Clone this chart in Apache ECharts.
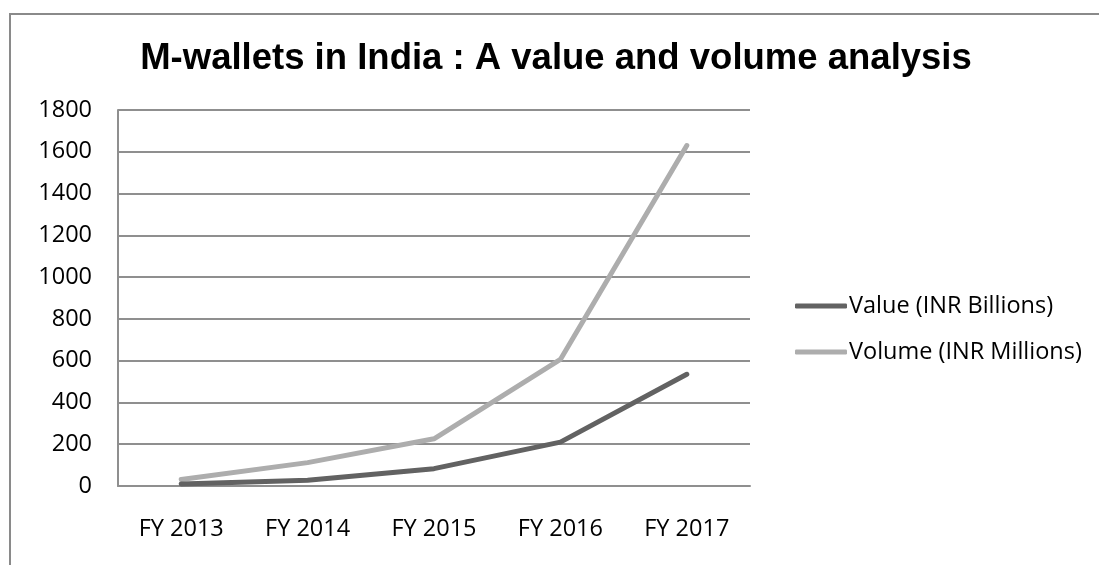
<!DOCTYPE html>
<html>
<head>
<meta charset="utf-8">
<title>M-wallets in India</title>
<script src="https://cdn.jsdelivr.net/npm/echarts@6/dist/echarts.min.js"></script>
<style>
  html, body { margin: 0; padding: 0; background: #ffffff; }
  #chart { width: 1099px; height: 565px; }
</style>
</head>
<body>
<div id="chart"></div>
<script>
// Fiscal years on the category axis
const categories = ['FY 2013', 'FY 2014', 'FY 2015', 'FY 2016', 'FY 2017'];

// Transaction value, INR billions
const valueInrBillions = [10, 27, 83, 210, 535];

// Transaction volume, INR millions
const volumeInrMillions = [31, 112, 226, 606, 1630];

// Y axis range and step
const yMin = 0;
const yMax = 1800;
const yStep = 200;

const chart = echarts.init(document.getElementById('chart'), null, { renderer: 'canvas' });

const labelFont = '"Open Sans", Lato, sans-serif';
const labelSize = 23.5;
const gridGray = '#8f8f8f';

chart.setOption({
  backgroundColor: '#ffffff',
  animation: false,
  title: {
    text: 'M-wallets in India : A value and volume analysis',
    left: 551,
    textAlign: 'center',
    top: 35,
    textStyle: {
      fontFamily: 'Liberation Sans, Arial, sans-serif',
      fontWeight: 'bold',
      fontSize: 36.5,
      color: '#000000'
    }
  },
  legend: {
    orient: 'vertical',
    left: 790,
    top: 289,
    itemWidth: 52,
    itemHeight: 5,
    itemGap: 22,
    icon: 'roundRect',
    textStyle: {
      fontFamily: labelFont,
      fontSize: labelSize,
      color: '#000000',
      padding: [0, 0, 0, -3]
    },
    data: ['Value (INR Billions)', 'Volume (INR Millions)']
  },
  grid: {
    left: 118,
    right: 349,
    top: 110,
    bottom: 79,
    containLabel: false
  },
  xAxis: {
    type: 'category',
    data: categories,
    boundaryGap: true,
    axisLine: { show: true, lineStyle: { color: gridGray, width: 2 } },
    axisTick: { show: false },
    axisLabel: {
      margin: 31,
      fontFamily: labelFont,
      fontSize: labelSize,
      color: '#000000'
    },
    splitLine: { show: false }
  },
  yAxis: {
    type: 'value',
    min: yMin,
    max: yMax,
    interval: yStep,
    axisLine: { show: true, lineStyle: { color: gridGray, width: 2 } },
    axisTick: { show: false },
    axisLabel: {
      margin: 26,
      fontFamily: labelFont,
      fontSize: labelSize,
      color: '#000000',
      formatter: function (v) { return String(v); }
    },
    splitLine: { show: true, lineStyle: { color: gridGray, width: 2 } }
  },
  series: [
    {
      name: 'Value (INR Billions)',
      type: 'line',
      data: valueInrBillions,
      showSymbol: false,
      symbol: 'none',
      itemStyle: { color: '#626262' },
      lineStyle: { color: '#626262', width: 5, cap: 'round', join: 'round' },
      z: 3
    },
    {
      name: 'Volume (INR Millions)',
      type: 'line',
      data: volumeInrMillions,
      showSymbol: false,
      symbol: 'none',
      itemStyle: { color: '#adadad' },
      lineStyle: { color: '#adadad', width: 5, cap: 'round', join: 'round' },
      z: 2
    }
  ],
  graphic: [
    {
      type: 'polyline',
      silent: true,
      shape: { points: [[10, 565], [10, 14], [1099, 14]] },
      style: { stroke: '#8a8a8a', lineWidth: 2, fill: null }
    }
  ]
});
</script>
</body>
</html>
